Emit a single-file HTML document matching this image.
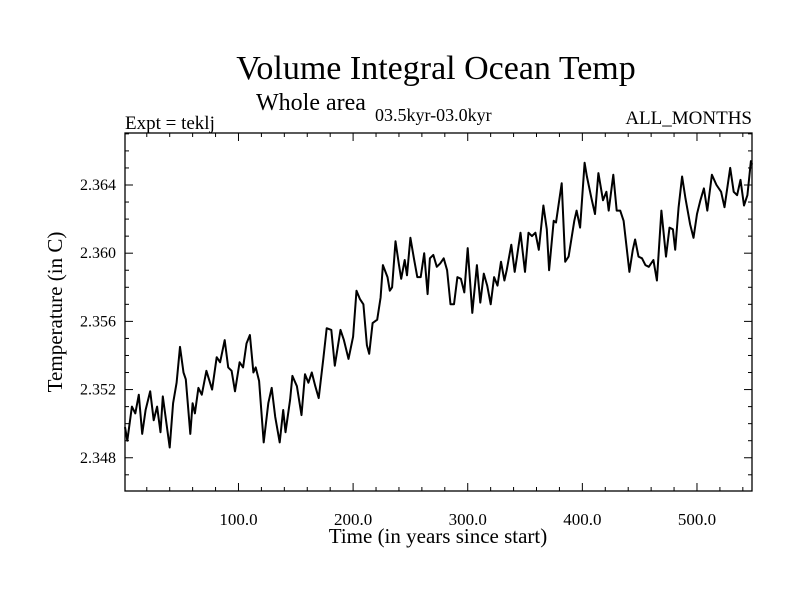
<!DOCTYPE html>
<html><head><meta charset="utf-8"><style>
html,body{margin:0;padding:0;background:#fff;width:800px;height:600px;overflow:hidden}
svg text{font-family:"Liberation Serif",serif;fill:#000}
</style></head><body>
<svg id="chart" width="800" height="600" xmlns="http://www.w3.org/2000/svg">
<text x="436" y="79" font-size="34" text-anchor="middle">Volume Integral Ocean Temp</text>
<text x="256" y="110" font-size="24">Whole area</text>
<text x="375" y="121" font-size="18">03.5kyr-03.0kyr</text>
<text x="125" y="129" font-size="19">Expt = teklj</text>
<text x="752" y="124" font-size="19" text-anchor="end">ALL_MONTHS</text>
<text x="438" y="543" font-size="21" text-anchor="middle">Time (in years since start)</text>
<text transform="translate(62,312) rotate(-90)" font-size="21" text-anchor="middle">Temperature (in C)</text>
<g id="axes"></g>
<path id="series" fill="none" stroke="#000" stroke-width="2" stroke-linejoin="round"></path>
</svg>
<script>
const years = [1,3,7,10,13,16,19,23,26,29,32,34,40,43,46,49,52,54,58,60,62,65,68,72,77,81,84,88,91,94,97,101,104,107,110,113,115,118,122,126,129,132,136,139,141,145,147,151,155,158,161,164,167,170,174,177,181,184,189,192,196,200,203,206,209,212,214,217,221,224,226,230,232,234,237,240,242,245,247,250,253,256,259,262,265,267,270,273,276,279,282,285,288,291,294,297,300,304,308,311,314,317,320,323,326,329,332,334,338,341,343,346,350,353,356,359,362,366,369,371,375,377,382,385,388,393,395,398,402,404,408,411,414,418,421,423,427,430,433,436,441,444,446,449,452,455,458,462,465,469,473,476,479,481,484,487,490,494,497,500,503,506,509,513,517,521,524,529,532,535,538,541,544,547,548];
const temps = [2.3498,2.3490,2.3510,2.3506,2.3517,2.3494,2.3508,2.3519,2.3502,2.3510,2.3495,2.3516,2.3486,2.3512,2.3524,2.3545,2.3530,2.3526,2.3494,2.3512,2.3506,2.3521,2.3517,2.3531,2.3520,2.3539,2.3536,2.3549,2.3533,2.3531,2.3519,2.3536,2.3533,2.3547,2.3552,2.3530,2.3533,2.3525,2.3489,2.3512,2.3521,2.3504,2.3489,2.3508,2.3495,2.3514,2.3528,2.3522,2.3505,2.3529,2.3524,2.3530,2.3522,2.3515,2.3538,2.3556,2.3555,2.3534,2.3555,2.3549,2.3538,2.3551,2.3578,2.3573,2.3570,2.3546,2.3541,2.3559,2.3561,2.3574,2.3593,2.3586,2.3578,2.3580,2.3607,2.3593,2.3585,2.3596,2.3587,2.3609,2.3597,2.3586,2.3586,2.3600,2.3576,2.3597,2.3599,2.3592,2.3594,2.3597,2.3590,2.3570,2.3570,2.3586,2.3585,2.3577,2.3603,2.3565,2.3593,2.3571,2.3588,2.3581,2.3570,2.3586,2.3581,2.3595,2.3584,2.3590,2.3605,2.3589,2.3598,2.3612,2.3589,2.3612,2.3610,2.3612,2.3602,2.3628,2.3614,2.3590,2.3619,2.3618,2.3641,2.3595,2.3598,2.3619,2.3625,2.3615,2.3653,2.3645,2.3632,2.3623,2.3647,2.3631,2.3636,2.3625,2.3646,2.3625,2.3625,2.3619,2.3589,2.3602,2.3608,2.3598,2.3597,2.3593,2.3592,2.3596,2.3584,2.3625,2.3598,2.3615,2.3614,2.3602,2.3627,2.3645,2.3632,2.3617,2.3609,2.3623,2.3631,2.3638,2.3625,2.3646,2.3640,2.3636,2.3627,2.3650,2.3636,2.3634,2.3643,2.3628,2.3634,2.3654,2.3652];
const xTickLabels = ["100.0","200.0","300.0","400.0","500.0"];
const xTickValues = [100,200,300,400,500];
const yTickLabels = ["2.348","2.352","2.356","2.360","2.364"];
const yTickValues = [2.348,2.352,2.356,2.360,2.364];

const L=125,R=752,T=133,B=491;
const X0=1,X1=548,Y0=2.34605,Y1=2.36705;
function sx(v){return L+(v-X0)/(X1-X0)*(R-L);}
function sy(v){return B-(v-Y0)/(Y1-Y0)*(B-T);}
const NS='http://www.w3.org/2000/svg';
const axes=document.getElementById('axes');
function line(x1,y1,x2,y2,name){
  const l=document.createElementNS(NS,'line');
  l.setAttribute('x1',x1);l.setAttribute('y1',y1);l.setAttribute('x2',x2);l.setAttribute('y2',y2);
  l.setAttribute('stroke','#000');l.setAttribute('stroke-width','1');
  
  
  axes.appendChild(l);
}
const frame=document.createElementNS(NS,'rect');
frame.setAttribute('x',L);frame.setAttribute('y',T);frame.setAttribute('width',R-L);frame.setAttribute('height',B-T);
frame.setAttribute('fill','none');frame.setAttribute('stroke','#000');frame.setAttribute('stroke-width','1.3');


axes.appendChild(frame);
for(let v=20;v<=X1;v+=20){
  const x=sx(v);const major=v%100===0;const len=major?8:4;
  line(x,B,x,B-len,'x-tick');line(x,T,x,T+len,'x-tick-top');
}
for(let k=0;k<=21;k++){
  const v=2.347+k*0.001;if(v>Y1)break;const y=sy(v);
  const major=Math.abs(((v-2.348)/0.004)-Math.round((v-2.348)/0.004))<1e-6;const len=major?8:4;
  line(L,y,L+len,y,'y-tick');line(R,y,R-len,y,'y-tick-right');
}
xTickValues.forEach((v,i)=>{
  const t=document.createElementNS(NS,'text');
  t.setAttribute('x',sx(v));t.setAttribute('y',B+34);t.setAttribute('font-size','17');t.setAttribute('text-anchor','middle');
  t.textContent=xTickLabels[i];
  
  
  axes.appendChild(t);
});
yTickValues.forEach((v,i)=>{
  const t=document.createElementNS(NS,'text');
  t.setAttribute('x',L-9);t.setAttribute('y',sy(v)+5);t.setAttribute('font-size','16');t.setAttribute('text-anchor','end');
  t.textContent=yTickLabels[i];
  
  
  axes.appendChild(t);
});
let d='';
years.forEach((yr,i)=>{d+=(i?'L':'M')+sx(yr).toFixed(1)+','+sy(temps[i]).toFixed(1);});
document.getElementById('series').setAttribute('d',d);
</script>
</body></html>
